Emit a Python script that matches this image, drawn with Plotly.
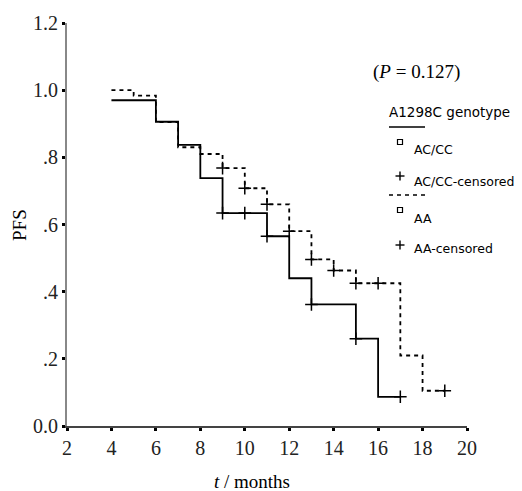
import plotly.graph_objects as go

# ---- data ----
ac_time = [4, 6, 7, 8, 9, 11, 12, 13, 15, 16, 17]
ac_surv = [0.97, 0.906, 0.837, 0.738, 0.634, 0.565, 0.44, 0.362, 0.26, 0.087, 0.087]
ac_cens_time = [9, 10, 11, 13, 15, 17]
ac_cens_surv = [0.634, 0.634, 0.565, 0.362, 0.26, 0.087]

aa_time = [4, 5, 6, 7, 8, 9, 10, 11, 12, 13, 14, 15, 17, 18, 19]
aa_surv = [1.0, 0.984, 0.905, 0.83, 0.81, 0.768, 0.708, 0.66, 0.58, 0.496, 0.463, 0.425, 0.21, 0.105, 0.105]
aa_cens_time = [9, 10, 11, 12, 13, 14, 15, 16, 19]
aa_cens_surv = [0.768, 0.708, 0.66, 0.58, 0.496, 0.463, 0.425, 0.425, 0.105]

x_ticks = [2, 4, 6, 8, 10, 12, 14, 16, 18, 20]
y_ticks = [0.0, 0.2, 0.4, 0.6, 0.8, 1.0, 1.2]
y_tick_labels = ["0.0", ".2", ".4", ".6", ".8", "1.0", "1.2"]

legend_title = "A1298C genotype"
legend_labels = ["AC/CC", "AC/CC-censored", "AA", "AA-censored"]
p_text = "(<i>P</i> = 0.127)"

# ---- layout geometry (page pixels; the page body adds an 8px margin) ----
OFF = 8
PAGE_W, PAGE_H = 522, 491
W, H = PAGE_W - OFF, PAGE_H - OFF
PL, PR, PT, PB = 67, 467, 23, 426          # plot area in page pixels
L, T = PL - OFF, PT - OFF
R, B = W - (PR - OFF), H - (PB - OFF)
PW, PH = PR - PL, PB - PT


def px(x):
    return (x - PL) / PW


def py(y):
    return (PB - y) / PH


SERIF = "Liberation Serif, Times New Roman, serif"
SANS = "DejaVu Sans, Verdana, sans-serif"

fig = go.Figure()

fig.add_trace(go.Scatter(x=ac_time, y=ac_surv, mode="lines", line_shape="hv",
                         line=dict(color="black", width=1.8), showlegend=False,
                         hoverinfo="skip"))
fig.add_trace(go.Scatter(x=aa_time, y=aa_surv, mode="lines", line_shape="hv",
                         line=dict(color="black", width=1.8, dash="4px,4px"),
                         showlegend=False, hoverinfo="skip"))
fig.add_trace(go.Scatter(x=ac_cens_time, y=ac_cens_surv, mode="markers",
                         marker=dict(symbol="cross-thin", size=9,
                                     line=dict(color="black", width=1.5)),
                         showlegend=False, hoverinfo="skip"))
fig.add_trace(go.Scatter(x=aa_cens_time, y=aa_cens_surv, mode="markers",
                         marker=dict(symbol="cross-thin", size=9,
                                     line=dict(color="black", width=1.5)),
                         showlegend=False, hoverinfo="skip"))

shapes = []
annotations = []

# legend
annotations.append(dict(x=px(387), y=py(112), xref="paper", yref="paper",
                        text=legend_title, showarrow=False, xanchor="left",
                        yanchor="middle", font=dict(family=SANS, size=13.5, color="black")))
shapes.append(dict(type="line", xref="paper", yref="paper",
                   x0=px(389), x1=px(425), y0=py(127), y1=py(127),
                   line=dict(color="black", width=1.5)))
shapes.append(dict(type="line", xref="paper", yref="paper",
                   x0=px(389), x1=px(427), y0=py(195), y1=py(195),
                   line=dict(color="black", width=1.5, dash="4px,4px")))

item_rows = [(142, 149, "square"), (176, 181, "cross"), (210, 218, "square"), (245, 249, "cross")]
for (sy, ty, kind), lab in zip(item_rows, legend_labels):
    if kind == "square":
        shapes.append(dict(type="rect", xref="paper", yref="paper",
                           x0=px(397.5), x1=px(402.5), y0=py(sy - 2.5), y1=py(sy + 2.5),
                           line=dict(color="black", width=1.2)))
    else:
        shapes.append(dict(type="line", xref="paper", yref="paper",
                           x0=px(395.5), x1=px(404.5), y0=py(sy), y1=py(sy),
                           line=dict(color="black", width=1.4)))
        shapes.append(dict(type="line", xref="paper", yref="paper",
                           x0=px(400), x1=px(400), y0=py(sy - 4.5), y1=py(sy + 4.5),
                           line=dict(color="black", width=1.4)))
    annotations.append(dict(x=px(412), y=py(ty), xref="paper", yref="paper",
                            text=lab, showarrow=False, xanchor="left", yanchor="middle",
                            font=dict(family=SANS, size=12.5, color="black")))

# P value
annotations.append(dict(x=px(416), y=py(72), xref="paper", yref="paper",
                        text=p_text, showarrow=False, xanchor="center", yanchor="middle",
                        font=dict(family=SERIF, size=19, color="black")))
# axis titles
annotations.append(dict(x=px(19), y=py(225), xref="paper", yref="paper",
                        text="PFS", textangle=-90, showarrow=False,
                        xanchor="center", yanchor="middle",
                        font=dict(family=SERIF, size=19, color="black")))
annotations.append(dict(x=px(252), y=py(481), xref="paper", yref="paper",
                        text="<i>t</i> / months", showarrow=False,
                        xanchor="center", yanchor="middle",
                        font=dict(family=SERIF, size=19, color="black")))

fig.update_layout(
    width=W, height=H, autosize=False,
    margin=dict(l=L, r=R, t=T, b=B, pad=0),
    paper_bgcolor="white", plot_bgcolor="white",
    shapes=shapes, annotations=annotations,
    showlegend=False,
)
fig.update_xaxes(range=[2, 20], tickvals=x_ticks, ticks="outside", ticklen=3,
                 tickwidth=3, tickcolor="black", showline=True, linecolor="#444",
                 linewidth=2, showgrid=False, zeroline=False, automargin=False,
                 tickfont=dict(family=SERIF, size=20, color="#222"))
fig.update_yaxes(range=[0, 1.2], tickvals=y_ticks, ticktext=y_tick_labels,
                 ticks="outside", ticklen=3, tickwidth=3, tickcolor="black",
                 showline=True, linecolor="#888", linewidth=2, showgrid=False,
                 zeroline=False, automargin=False,
                 tickfont=dict(family=SERIF, size=20, color="#222"))

fig.write_html("out.html")
